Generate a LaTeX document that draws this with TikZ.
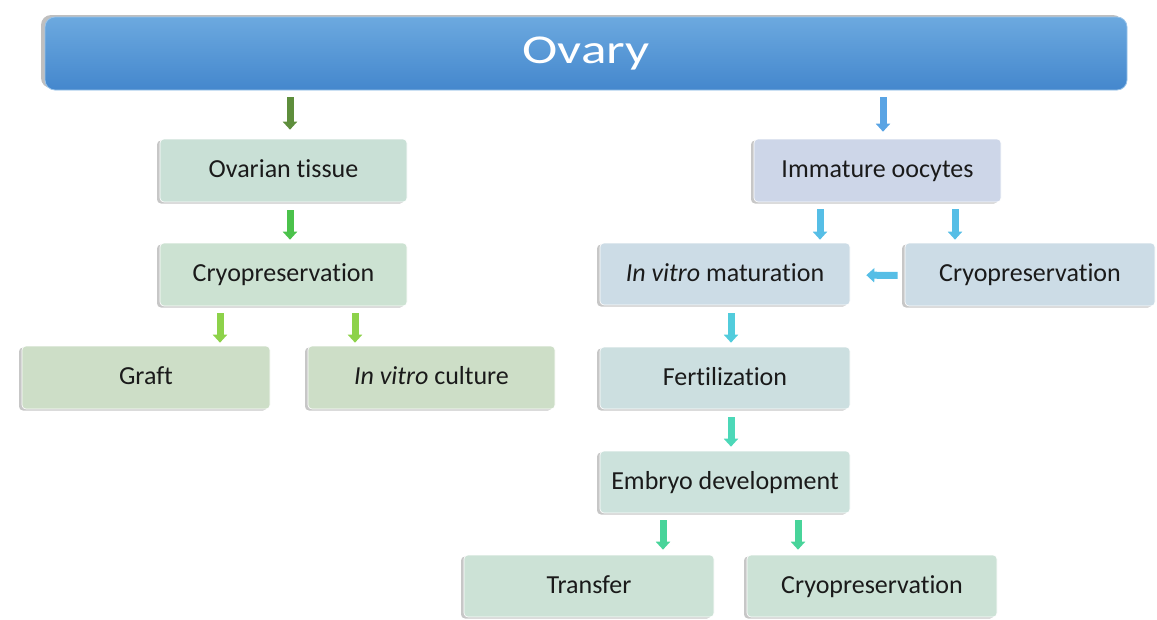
\documentclass[tikz,border=0pt]{standalone}
\usepackage{fontspec}
\usepackage{graphicx}
\setmainfont{Carlito}[Ligatures={NoCommon}]
\usetikzlibrary{arrows.meta,shadows}
\definecolor{barTop}{HTML}{6CA9DF}
\definecolor{barBot}{HTML}{4487CD}
\definecolor{fTissue}{HTML}{C9E0D6}
\definecolor{fCryoL}{HTML}{CCE2D2}
\definecolor{fGraft}{HTML}{CDDEC7}
\definecolor{fImm}{HTML}{CDD6E8}
\definecolor{fIvm}{HTML}{CCDCE6}
\definecolor{fFert}{HTML}{CCDFE0}
\definecolor{fEmb}{HTML}{CCE2DC}
\definecolor{fLast}{HTML}{CCE2D6}
\definecolor{aOlive}{HTML}{5E8E3C}
\definecolor{aGreen}{HTML}{4BC24B}
\definecolor{aLime}{HTML}{8DD24A}
\definecolor{aBlue}{HTML}{5AA4E4}
\definecolor{aSky}{HTML}{56BEE6}
\definecolor{aCyan}{HTML}{52CCDC}
\definecolor{aTeal}{HTML}{4CD8B8}
\definecolor{aMint}{HTML}{48D49A}
\definecolor{txt}{HTML}{1A1A1A}
\tikzset{
  box/.style={rectangle, rounded corners=4pt, draw=white, line width=0.6pt,
    minimum width=248pt, minimum height=63pt, inner sep=0pt,
    text=txt, font=\fontsize{26}{30}\selectfont, text height=17pt, text depth=3pt,
    drop shadow={shadow xshift=-3pt, shadow yshift=-1.5pt, opacity=0.22, fill=black}},
  bararrow/.style={line width=7pt, draw=#1,
    -{Triangle[width=14pt,length=8pt,fill=#1]}},
}
\begin{document}
\begin{tikzpicture}[x=1pt,y=-1pt]
\useasboundingbox (0,0) rectangle (1157,619);
% top bar
\node[rectangle, rounded corners=10pt, minimum width=1082pt, minimum height=73pt,
  inner sep=0pt, top color=barTop, bottom color=barBot, draw=barTop!70!white, line width=0.8pt,
  text=white, font=\fontsize{41}{48}\selectfont,
  drop shadow={shadow xshift=-4pt, shadow yshift=2pt, opacity=0.25, fill=black}]
  (ovary) at (586,53.5) {\raisebox{6pt}{\scalebox{1.3}[1]{Ovary}}};
% left branch
\node[box, fill=fTissue, minimum width=247pt] (tissue) at (283.5,170.5) {Ovarian tissue};
\node[box, fill=fCryoL, minimum width=247pt] (cryoL) at (283.5,274.5) {Cryopreservation};
\node[box, fill=fGraft] (graft) at (146,377.5) {Graft};
\node[box, fill=fGraft, minimum width=247pt] (culture) at (431.5,377.5) {\textit{In vitro} culture};
% right branch
\node[box, fill=fImm, minimum width=247pt] (imm) at (877.5,170.5) {Immature oocytes};
\node[box, fill=fIvm, minimum width=250pt, minimum height=62pt] (ivm) at (725,274) {\textit{In vitro} maturation};
\node[box, fill=fIvm, minimum width=250pt] (cryoR) at (1030,274.5) {Cryopreservation};
\node[box, fill=fFert, minimum width=250pt, minimum height=62pt] (fert) at (725,378) {Fertilization};
\node[box, fill=fEmb, minimum width=250pt, minimum height=62pt] (emb) at (725,482) {Embryo development};
\node[box, fill=fLast, minimum width=250pt, minimum height=62pt] (transfer) at (589,586) {Transfer};
\node[box, fill=fLast, minimum width=250pt, minimum height=62pt] (cryoB) at (872,586) {Cryopreservation};
% arrows left
\draw[bararrow=aOlive, shorten <=7pt, shorten >=9pt]
  ([xshift=6.5pt]tissue.north |- ovary.south) -- ([xshift=6.5pt]tissue.north);
\draw[bararrow=aGreen, shorten <=8pt, shorten >=3pt]
  ([xshift=6.5pt]tissue.south) -- ([xshift=6.5pt]cryoL.north);
\draw[bararrow=aLime, shorten <=7pt, shorten >=3pt]
  ([xshift=74pt]graft.north |- cryoL.south) -- ([xshift=74pt]graft.north);
\draw[bararrow=aLime, shorten <=7pt, shorten >=3pt]
  ([xshift=-76.5pt]culture.north |- cryoL.south) -- ([xshift=-76.5pt]culture.north);
% arrows right
\draw[bararrow=aBlue, shorten <=7pt, shorten >=7pt]
  ([xshift=5.5pt]imm.north |- ovary.south) -- ([xshift=5.5pt]imm.north);
\draw[bararrow=aSky, shorten <=7pt, shorten >=3pt]
  ([xshift=95pt]ivm.north |- imm.south) -- ([xshift=95pt]ivm.north);
\draw[bararrow=aSky, shorten <=7pt, shorten >=3pt]
  ([xshift=-75pt]cryoR.north |- imm.south) -- ([xshift=-75pt]cryoR.north);
\draw[bararrow=aSky, shorten <=7pt, shorten >=16pt]
  ([yshift=-1pt]cryoR.west) -- ([yshift=-1pt]ivm.east);
\draw[bararrow=aCyan, shorten <=8pt, shorten >=4pt]
  ([xshift=6pt]ivm.south) -- ([xshift=6pt]fert.north);
\draw[bararrow=aTeal, shorten <=8pt, shorten >=4pt]
  ([xshift=6pt]fert.south) -- ([xshift=6pt]emb.north);
\draw[bararrow=aMint, shorten <=7pt, shorten >=5pt]
  ([xshift=74pt]transfer.north |- emb.south) -- ([xshift=74pt]transfer.north);
\draw[bararrow=aMint, shorten <=7pt, shorten >=5pt]
  ([xshift=-74pt]cryoB.north |- emb.south) -- ([xshift=-74pt]cryoB.north);
\end{tikzpicture}
\end{document}
